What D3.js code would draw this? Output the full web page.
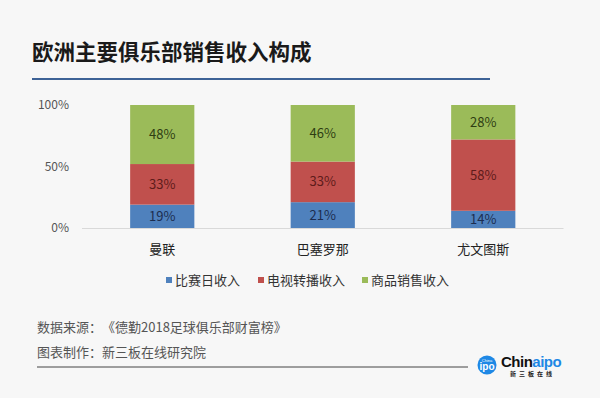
<!DOCTYPE html>
<html>
<head>
<meta charset="utf-8">
<script src="https://cdn.jsdelivr.net/npm/d3@7"></script>
<style>
  html, body { margin: 0; padding: 0; background: #f7f7f7; }
  svg { display: block; font-family: "Noto Sans CJK SC", "Noto Sans", sans-serif; text-spacing-trim: space-all; }
</style>
</head>
<body>
<svg id="chart"></svg>
<script>
// data
const clubs = ['曼联', '巴塞罗那', '尤文图斯'];
const seriesNames = ['比赛日收入', '电视转播收入', '商品销售收入'];
const matchday = [19, 21, 14];
const broadcast = [33, 33, 58];
const commercial = [48, 46, 28];
const yTicks = [0, 50, 100];

const colors = ['#4f81bd', '#c0504d', '#9bbb59'];
const labelColors = ['#1c2d4f', '#5e1b1a', '#2e3d12'];

const width = 600, height = 398;

const svg = d3.select('#chart')
  .attr('width', width)
  .attr('height', height);

svg.append('rect')
  .attr('width', width)
  .attr('height', height)
  .attr('fill', '#f7f7f7');

// title
svg.append('text')
  .attr('x', 32)
  .attr('y', 60)
  .attr('font-size', 21.5)
  .attr('font-weight', 'bold')
  .attr('fill', '#1a1a1a')
  .text('欧洲主要俱乐部销售收入构成');

svg.append('line')
  .attr('x1', 32).attr('x2', 490)
  .attr('y1', 79).attr('y2', 79)
  .attr('stroke', '#3d6296')
  .attr('stroke-width', 2);

const table = clubs.map((c, i) => ({
  club: c,
  [seriesNames[0]]: matchday[i],
  [seriesNames[1]]: broadcast[i],
  [seriesNames[2]]: commercial[i]
}));

const stacked = d3.stack().keys(seriesNames)(table);

const x = d3.scaleBand()
  .domain(clubs)
  .range([82, 563.5])
  .paddingInner(0.6)
  .paddingOuter(0.3);

const y = d3.scaleLinear()
  .domain([0, 100])
  .range([228, 105]);

// y axis labels
svg.append('g')
  .selectAll('text')
  .data(yTicks)
  .enter()
  .append('text')
  .attr('x', 69)
  .attr('y', d => y(d))
  .attr('dy', '0.35em')
  .attr('text-anchor', 'end')
  .attr('font-size', 12)
  .attr('fill', '#555')
  .text(d => d + '%');

// bars
const layers = svg.append('g')
  .selectAll('g')
  .data(stacked)
  .enter()
  .append('g')
  .attr('fill', (d, i) => colors[i]);

layers.selectAll('rect')
  .data(d => d)
  .enter()
  .append('rect')
  .attr('x', d => x(d.data.club))
  .attr('y', d => y(d[1]))
  .attr('width', x.bandwidth())
  .attr('height', d => y(d[0]) - y(d[1]));

stacked.forEach((layer, i) => {
  svg.append('g')
    .selectAll('text')
    .data(layer)
    .enter()
    .append('text')
    .attr('x', d => x(d.data.club) + x.bandwidth() / 2)
    .attr('y', d => (y(d[0]) + y(d[1])) / 2)
    .attr('dy', '0.35em')
    .attr('text-anchor', 'middle')
    .attr('font-size', 13)
    .attr('fill', labelColors[i])
    .text(d => (d[1] - d[0]) + '%');
});

// baseline
svg.append('line')
  .attr('x1', 82).attr('x2', 563.5)
  .attr('y1', y(0) + 0.5).attr('y2', y(0) + 0.5)
  .attr('stroke', '#d9d9d9')
  .attr('stroke-width', 1);

// category labels
svg.append('g')
  .selectAll('text')
  .data(clubs)
  .enter()
  .append('text')
  .attr('x', d => x(d) + x.bandwidth() / 2)
  .attr('y', 249)
  .attr('dy', '0.35em')
  .attr('text-anchor', 'middle')
  .attr('font-size', 13)
  .attr('fill', '#222')
  .text(d => d);

// legend
const legendX = [166, 258, 362];
const legend = svg.append('g')
  .selectAll('g')
  .data(seriesNames)
  .enter()
  .append('g')
  .attr('transform', (d, i) => `translate(${legendX[i]},280)`);

legend.append('rect')
  .attr('x', 0).attr('y', -3)
  .attr('width', 6).attr('height', 6)
  .attr('fill', (d, i) => colors[i]);

legend.append('text')
  .attr('x', 9)
  .attr('dy', '0.35em')
  .attr('font-size', 13)
  .attr('fill', '#333')
  .text(d => d);

// footer
svg.append('text')
  .attr('x', 37).attr('y', 327)
  .attr('dy', '0.35em')
  .attr('font-size', 13)
  .attr('fill', '#555')
  .text('数据来源：《德勤2018足球俱乐部财富榜》');

svg.append('text')
  .attr('x', 37).attr('y', 352)
  .attr('dy', '0.35em')
  .attr('font-size', 13)
  .attr('fill', '#555')
  .text('图表制作：新三板在线研究院');

svg.append('line')
  .attr('x1', 37).attr('x2', 468)
  .attr('y1', 367).attr('y2', 367)
  .attr('stroke', '#444')
  .attr('stroke-width', 1);

// logo
const logo = svg.append('g').attr('transform', 'translate(487,365)');
logo.append('circle').attr('r', 9.5).attr('fill', '#1e88e5');
logo.append('text')
  .attr('y', -3.5)
  .attr('text-anchor', 'middle')
  .attr('font-size', 4)
  .attr('fill', '#fff')
  .attr('font-family', 'Liberation Sans')
  .text('China');
logo.append('text')
  .attr('y', 5)
  .attr('text-anchor', 'middle')
  .attr('font-size', 10)
  .attr('font-weight', 'bold')
  .attr('fill', '#fff')
  .attr('font-family', 'Liberation Sans')
  .text('ipo');

const brand = logo.append('text')
  .attr('x', 14)
  .attr('y', 2)
  .attr('font-size', 15)
  .attr('font-weight', 'bold')
  .attr('font-family', 'Liberation Sans')
  .attr('letter-spacing', -0.5);
brand.append('tspan').attr('fill', '#111').text('Chin');
brand.append('tspan').attr('fill', '#1e88e5').text('aipo');

logo.append('text')
  .attr('x', 23)
  .attr('y', 11)
  .attr('font-size', 6)
  .attr('font-weight', 'bold')
  .attr('fill', '#222')
  .attr('letter-spacing', 3)
  .text('新三板在线');
</script>
</body>
</html>
